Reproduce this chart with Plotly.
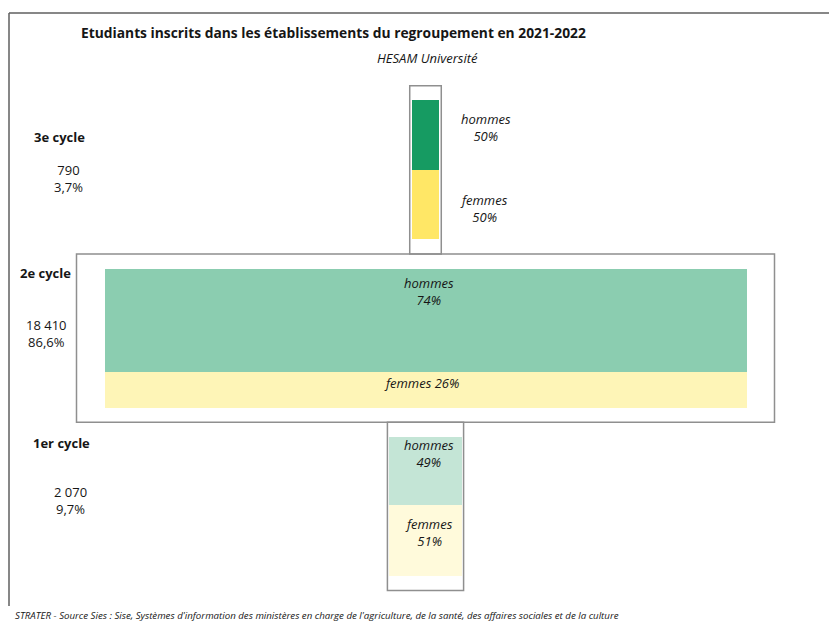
import plotly.graph_objects as go

# ---- data ----
cycles = ["1er cycle", "2e cycle", "3e cycle"]
counts = [2070, 18410, 790]
hommes_pct = [49, 74, 50]
femmes_pct = [51, 26, 50]
title_text = "Etudiants inscrits dans les établissements du regroupement en 2021-2022"
subtitle_text = "HESAM Université"
source_text = ("STRATER - Source Sies : Sise, Systèmes d'information des ministères en charge de "
               "l'agriculture, de la santé, des affaires sociales et de la culture")

# ---- styles / layout ----
W, H = 829, 621
green_cols = ["#c4e5d6", "#8bcdb0", "#169b62"]
yellow_cols = ["#fffadb", "#fef5b7", "#ffe766"]
box_col = "#8f8f8f"
frame_col = "#5f5f5f"
FONT = "Open Sans"

kx = 642 / 18410.0      # px per student
cx = 425.5              # center pixel
ky = 1.39               # px per percent unit
band = 121              # band height (units)
base0 = 32.5
bases = [base0 + i * band for i in range(3)]
box_pad_px = [2, 28, 2]  # horizontal padding of outline boxes (px)
box_pad_y = 10.5

xr = [-cx / kx, (W - cx) / kx]
yr = [0, H / ky]

fig = go.Figure()
fig.add_trace(go.Bar(
    x=[0, 0, 0], y=femmes_pct, base=bases, width=counts,
    marker=dict(color=yellow_cols, line=dict(width=0)), showlegend=False, hoverinfo="skip"))
fig.add_trace(go.Bar(
    x=[0, 0, 0], y=hommes_pct, base=[b + f for b, f in zip(bases, femmes_pct)], width=counts,
    marker=dict(color=green_cols, line=dict(width=0)), showlegend=False, hoverinfo="skip"))

shapes = []
for i, (c, b) in enumerate(zip(counts, bases)):
    half = c / 2 + box_pad_px[i] / kx
    shapes.append(dict(type="rect", xref="x", yref="y", x0=-half, x1=half,
                       y0=b - box_pad_y, y1=b + 100 + box_pad_y,
                       line=dict(color=box_col, width=1.5), fillcolor="rgba(0,0,0,0)", layer="below"))
# frame
shapes.append(dict(type="line", xref="paper", yref="paper", x0=9 / W, x1=1, y0=1 - 13 / H, y1=1 - 13 / H,
                   line=dict(color=frame_col, width=1.5)))
shapes.append(dict(type="line", xref="paper", yref="paper", x0=9 / W, x1=9 / W, y0=1 - 13 / H, y1=1 - 606 / H,
                   line=dict(color=frame_col, width=1.5)))

total = sum(counts)


def fmt_int(n):
    return f"{n:,}".replace(",", " ")


def ann(text, px, py, size=13, bold=False, italic=False, xanchor="center", color="#161616"):
    t = text
    if bold:
        t = f"<b>{t}</b>"
    if italic:
        t = f"<i>{t}</i>"
    return dict(text=t, x=px / W, y=1 - py / H, xref="paper", yref="paper", showarrow=False,
                xanchor=xanchor, yanchor="middle", font=dict(family=FONT, size=size, color=color))


anns = []
anns.append(ann(title_text, 333.5, 32, size=13.8, bold=True))
anns.append(ann(subtitle_text, 427, 58, size=13, italic=True))

cycle_label_pos = [(61.5, 443, 70, 500), (45, 273, 46.5, 333), (59.5, 137, 68, 179)]
for i, c in enumerate(cycles):
    lx, ly, nx, ny = cycle_label_pos[i]
    anns.append(ann(c, lx, ly, size=13, bold=True))
    pct = f"{counts[i] / total * 100:.1f}".replace(".", ",") + "%"
    anns.append(ann(f"{fmt_int(counts[i])}<br>{pct}", nx, ny, size=13))

# bar labels
anns.append(ann(f"hommes<br>{hommes_pct[2]}%", 486, 127, size=13, italic=True))
anns.append(ann(f"femmes<br>{femmes_pct[2]}%", 484, 209, size=13, italic=True))
anns.append(ann(f"hommes<br>{hommes_pct[1]}%", 429, 291, size=13, italic=True))
anns.append(ann(f"femmes {femmes_pct[1]}%", 421, 383, size=13, italic=True))
anns.append(ann(f"hommes<br>{hommes_pct[0]}%", 429, 453, size=13, italic=True))
anns.append(ann(f"femmes<br>{femmes_pct[0]}%", 429, 532, size=13, italic=True))

anns.append(ann(source_text, 13, 615, size=9.7, italic=True, xanchor="left"))

fig.update_layout(
    width=W, height=H, autosize=False,
    margin=dict(l=0, r=0, t=0, b=0, pad=0),
    paper_bgcolor="white", plot_bgcolor="white",
    barmode="overlay", bargap=0,
    xaxis=dict(range=xr, visible=False, fixedrange=True),
    yaxis=dict(range=yr, visible=False, fixedrange=True),
    shapes=shapes, annotations=anns,
)

fig.write_html("out.html", config={"displayModeBar": False})
